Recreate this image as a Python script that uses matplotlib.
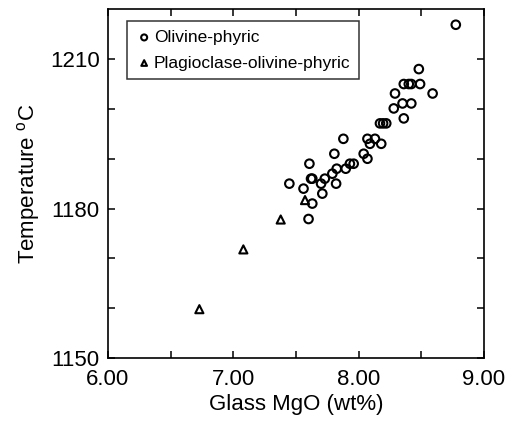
import numpy as np
import matplotlib
matplotlib.use("Agg")
import matplotlib.pyplot as plt

plt.rcParams['font.family'] = ['Liberation Sans', 'DejaVu Sans']
plt.rcParams['mathtext.fontset'] = 'custom'
plt.rcParams['mathtext.rm'] = 'Liberation Sans'

# Olivine-phyric samples (glass MgO wt%, temperature C)
olivine_mgo = [8.775, 8.48, 8.36, 8.40, 8.42, 8.49, 8.29, 8.59, 8.28, 8.35, 8.42,
               8.36, 8.17, 8.195, 8.22, 7.878, 8.07, 8.13, 8.09, 8.18, 7.806,
               8.04, 8.07, 7.607, 7.93, 7.96, 7.825, 7.897, 7.79, 7.62, 7.63,
               7.73, 7.70, 7.82, 7.447, 7.56, 7.71, 7.63, 7.60]
olivine_temp = [1216.9, 1208.0, 1205.0, 1205.0, 1205.0, 1205.0, 1203.1, 1203.1, 1200.1, 1201.1, 1201.1,
                1198.1, 1197.1, 1197.1, 1197.1, 1194.0, 1194.0, 1194.0, 1193.0, 1193.0, 1191.0,
                1191.0, 1190.0, 1189.0, 1189.0, 1189.0, 1188.0, 1188.0, 1187.0, 1186.0, 1186.0,
                1186.0, 1185.0, 1185.0, 1185.0, 1184.0, 1183.0, 1181.0, 1177.9]

# Plagioclase-olivine-phyric samples
plag_mgo = [6.729, 7.08, 7.378, 7.572]
plag_temp = [1159.8, 1171.8, 1177.8, 1181.7]

fig = plt.figure(figsize=(5.15, 4.23), dpi=100)
ax = fig.add_axes([0.2097, 0.1537, 0.7301, 0.8243])

ax.scatter(olivine_mgo, olivine_temp, s=38, marker='o', facecolors='none',
           edgecolors='black', linewidths=1.5, label='Olivine-phyric')
ax.scatter(plag_mgo, plag_temp, s=34, marker='^', facecolors='none',
           edgecolors='black', linewidths=1.5, label='Plagioclase-olivine-phyric')

ax.set_xlim(6.0, 9.0)
ax.set_ylim(1150, 1220)
ax.set_xticks([6.0, 7.0, 8.0, 9.0])
ax.set_xticklabels(['6.00', '7.00', '8.00', '9.00'])
ax.set_xticks(np.arange(6.5, 9.0, 1.0), minor=True)
ax.set_yticks([1150, 1180, 1210])
ax.set_yticks([1160, 1170, 1190, 1200], minor=True)

ax.tick_params(which='both', direction='in', length=5, width=1.1,
               top=True, right=True, labelsize=16)
ax.tick_params(axis='x', pad=8)
ax.tick_params(axis='y', pad=6)
for sp in ax.spines.values():
    sp.set_linewidth(1.2)

ax.set_xlabel('Glass MgO (wt%)', fontsize=16, labelpad=3)
ax.set_ylabel(r'Temperature $^{\mathrm{o}}$C', fontsize=16, labelpad=6)

leg = ax.legend(loc='upper left', bbox_to_anchor=(0.05, 0.966), borderaxespad=0,
                fancybox=False, edgecolor='black', fontsize=12.5, handletextpad=0.05,
                handlelength=1.0, markerscale=0.7, borderpad=0.5, labelspacing=0.6)
leg.get_frame().set_linewidth(1.1)

fig.savefig('out.png', dpi=100)
